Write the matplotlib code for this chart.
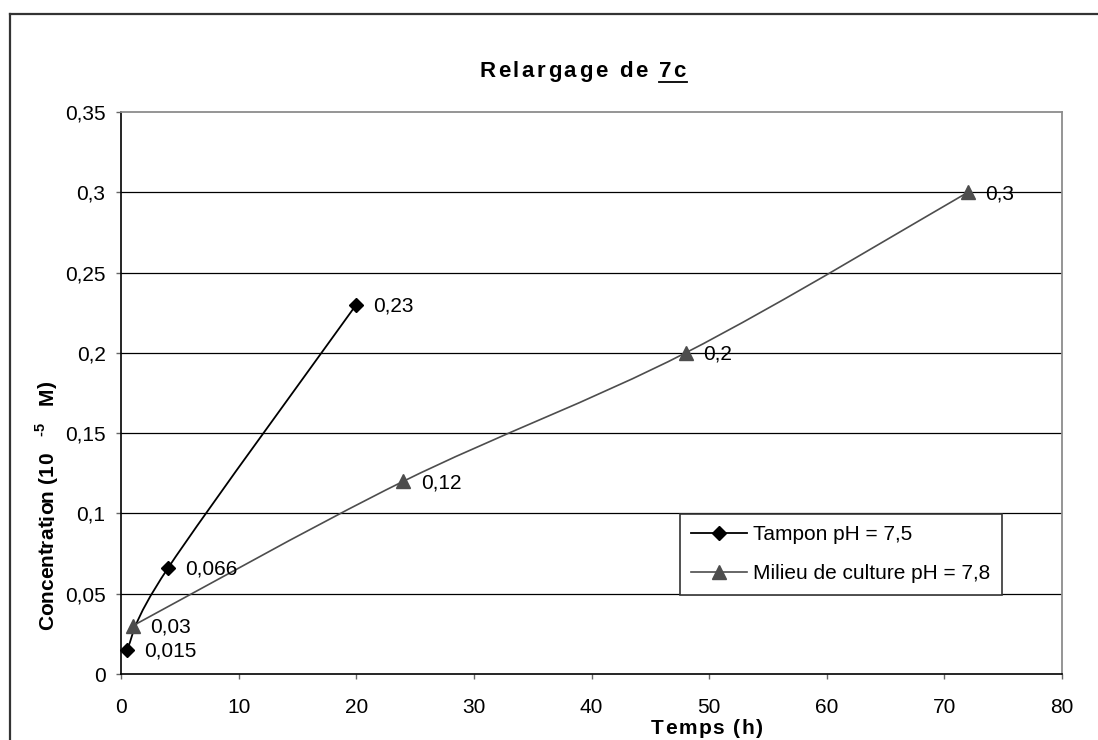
import numpy as np
import matplotlib
matplotlib.use("Agg")
import matplotlib.pyplot as plt
from matplotlib.path import Path
from matplotlib.patches import PathPatch
from matplotlib.lines import Line2D
from matplotlib.transforms import IdentityTransform
from matplotlib.ft2font import FT2Font
from matplotlib.font_manager import findfont, FontProperties

FAMILY = "Liberation Sans"
plt.rcParams["font.family"] = [FAMILY, "DejaVu Sans"]

# ---- data ----
tampon_t = [0.5, 4, 20]
tampon_c = [0.015, 0.066, 0.23]
milieu_t = [1, 24, 48, 72]
milieu_c = [0.03, 0.12, 0.2, 0.3]
series_names = ["Tampon pH = 7,5", "Milieu de culture pH = 7,8"]

x_ticks = [0, 10, 20, 30, 40, 50, 60, 70, 80]
y_ticks = [0, 0.05, 0.1, 0.15, 0.2, 0.25, 0.3, 0.35]
y_tick_labels = ["0", "0,05", "0,1", "0,15", "0,2", "0,25", "0,3", "0,35"]

W, H, DPI = 1098, 740, 100
fig = plt.figure(figsize=(W / DPI, H / DPI), dpi=DPI)
fig.patch.set_facecolor("white")
PX = DPI / 72.0


def glyph_advances(text, size, weight):
    path = findfont(FontProperties(family=FAMILY, weight=weight))
    f = FT2Font(path)
    f.set_size(size, 72)
    out = []
    for ch in text:
        g = f.load_char(ord(ch))
        out.append(g.linearHoriAdvance / 65536.0)
    return out


def tracked_text(parts, x, y, rotation=0, tracking=0.0, align="center", color="black"):
    """Draw text character by character (pixel coords) with extra letter spacing.
    parts: list of (text, size_pt, weight, rise_px). Returns span of each part."""
    items, spans, pos = [], [], 0.0
    for text, size, weight, rise in parts:
        start = pos
        for ch, a in zip(text, glyph_advances(text, size, weight)):
            items.append((ch, size, weight, rise, pos))
            pos += a * PX + tracking
        spans.append((start, pos - tracking))
    total = pos - tracking
    shift = total / 2 if align == "center" else 0.0
    th = np.deg2rad(rotation)
    d = np.array([np.cos(th), np.sin(th)])
    n = np.array([-np.sin(th), np.cos(th)])
    for ch, size, weight, rise, off in items:
        if ch == " ":
            continue
        p = np.array([x, y]) + d * (off - shift) + n * rise
        fig.text(p[0], p[1], ch, transform=IdentityTransform(), fontsize=size,
                 fontweight=weight, ha="left", va="baseline", rotation=rotation,
                 rotation_mode="anchor", color=color)
    origin = np.array([x, y]) - d * shift
    return [(origin + d * a, origin + d * b) for a, b in spans]


def smooth_path(xs, ys):
    pts = np.column_stack([xs, ys]).astype(float)
    n = len(pts)
    verts, codes = [pts[0]], [Path.MOVETO]
    for i in range(n - 1):
        p0, p1 = pts[max(i - 1, 0)], pts[i]
        p2, p3 = pts[i + 1], pts[min(i + 2, n - 1)]
        verts += [p1 + (p2 - p0) / 6.0, p2 - (p3 - p1) / 6.0, p2]
        codes += [Path.CURVE4] * 3
    return Path(verts, codes)


# outer chart border (top and left edges)
fig.add_artist(Line2D([10, 10], [-5, H - 14], transform=IdentityTransform(),
                      color="#333333", lw=1.6))
fig.add_artist(Line2D([10, W + 5], [H - 14, H - 14], transform=IdentityTransform(),
                      color="#333333", lw=1.6))

# plot area
L, R, T, B = 121, 1062, 112, 674
ax = fig.add_axes([L / W, (H - B) / H, (R - L) / W, (B - T) / H])
ax.set_xlim(0, 80)
ax.set_ylim(0, 0.35)
ax.set_xticks(x_ticks)
ax.set_yticks(y_ticks)
ax.set_yticklabels(y_tick_labels)
ax.tick_params(axis="both", direction="out", length=3.6, width=1.0,
               color="#666666", labelsize=15, labelcolor="black")
ax.tick_params(axis="x", pad=14)
ax.tick_params(axis="y", pad=7.5)
for side in ("top", "right"):
    ax.spines[side].set_color("#8c8c8c")
    ax.spines[side].set_linewidth(1.3)
for side in ("left", "bottom"):
    ax.spines[side].set_color("black")
    ax.spines[side].set_linewidth(1.2)

for v in y_ticks[1:-1]:
    ax.axhline(v, color="black", lw=0.9, zorder=0.5)

styles = [
    dict(color="black", marker="D", ms=7.4, mfc="black", mec="black", lw=1.3),
    dict(color="#4d4d4d", marker="^", ms=9.5, mfc="#4d4d4d", mec="#4d4d4d", lw=1.2),
]
for xs, ys, st in zip([tampon_t, milieu_t], [tampon_c, milieu_c], styles):
    ax.add_patch(PathPatch(smooth_path(xs, ys), facecolor="none",
                           edgecolor=st["color"], lw=st["lw"], zorder=3))
    ax.plot(xs, ys, linestyle="none", marker=st["marker"], ms=st["ms"],
            mfc=st["mfc"], mec=st["mec"], zorder=4, clip_on=False)
    for xv, yv in zip(xs, ys):
        ax.annotate(f"{yv:g}".replace(".", ","), (xv, yv), xytext=(12.5, -1),
                    textcoords="offset points", ha="left", va="center",
                    fontsize=15, color="black", zorder=5)

handles = [Line2D([], [], color=st["color"], lw=st["lw"], marker=st["marker"],
                  ms=st["ms"], mfc=st["mfc"], mec=st["mec"]) for st in styles]
leg = ax.legend(handles, series_names, loc="upper left",
                bbox_to_anchor=(680 / W, (H - 514) / H),
                bbox_transform=fig.transFigure, fontsize=15, frameon=True,
                fancybox=False, shadow=False, borderaxespad=0, borderpad=0.55,
                handlelength=2.65, handletextpad=0.3, labelspacing=0.95)
leg.get_frame().set_edgecolor("#333333")
leg.get_frame().set_linewidth(1.2)
leg.get_frame().set_facecolor("white")
leg.get_frame().set_alpha(1)

# title with underlined compound number
spans = tracked_text([("Relargage de ", 16, "bold", 0), ("7c", 16, "bold", 0)],
                     582.5, H - 77, tracking=2.6)
(a, b) = spans[1]
fig.add_artist(Line2D([a[0], b[0] + 1], [H - 82, H - 82], transform=IdentityTransform(),
                      color="black", lw=1.3))

# axis titles
tracked_text([("Temps (h)", 15, "bold", 0)], 707, 6, tracking=1.6)
tracked_text([("Concentration (10   ", 15, "bold", 0), ("-5", 10.5, "bold", 8),
              ("   M)", 15, "bold", 0)], 53, H - 630, rotation=90, align="left")

fig.savefig("out.png", dpi=DPI, facecolor="white")
